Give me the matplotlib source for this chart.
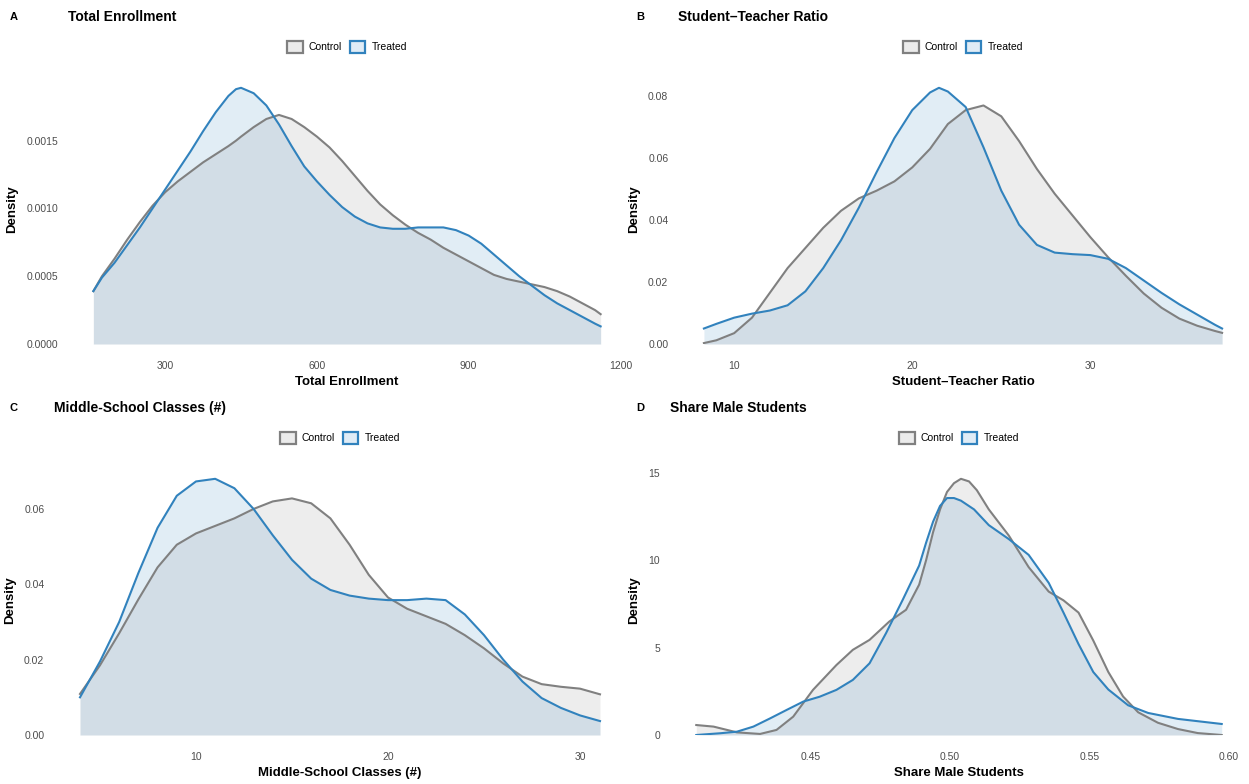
import matplotlib
matplotlib.use("Agg")
import matplotlib.pyplot as plt
from matplotlib.patches import Patch

plt.rcParams['font.family'] = ['Liberation Sans', 'DejaVu Sans']

# ---------------- data ----------------
# Panel A: Total Enrollment
a_x = [158, 175, 200, 225, 250, 275, 300, 325, 350, 375, 400, 425, 440, 450, 475, 500, 525, 550, 575,
       600, 625, 650, 675, 700, 725, 750, 775, 800, 825, 850, 875, 900, 925, 950, 975, 1000, 1025, 1050,
       1075, 1100, 1125, 1150, 1161]
a_ctrl_y = [0.00039, 0.00050, 0.00063, 0.00077, 0.00090, 0.00102, 0.00112, 0.00120, 0.00127, 0.00134,
            0.00140, 0.00146, 0.00150, 0.00153, 0.00160, 0.00166, 0.00169, 0.00166, 0.00160, 0.00153,
            0.00145, 0.00135, 0.00124, 0.00113, 0.00103, 0.00095, 0.00088, 0.00082, 0.00077, 0.00071,
            0.00066, 0.00061, 0.00056, 0.00051, 0.00048, 0.00046, 0.00044, 0.00042, 0.00039, 0.00035,
            0.00030, 0.00025, 0.00022]
a_trt_y = [0.00039, 0.00049, 0.00060, 0.00073, 0.00086, 0.00100, 0.00114, 0.00128, 0.00142, 0.00157,
           0.00171, 0.00183, 0.00188, 0.00189, 0.00185, 0.00176, 0.00162, 0.00146, 0.00131, 0.00120,
           0.00110, 0.00101, 0.00094, 0.00089, 0.00086, 0.00085, 0.00085, 0.00086, 0.00086, 0.00086,
           0.00084, 0.00080, 0.00074, 0.00066, 0.00058, 0.00050, 0.00043, 0.00036, 0.00030, 0.00025,
           0.00020, 0.00015, 0.00013]
a_xticks = [300, 600, 900, 1200]
a_yticks = [0.0, 0.0005, 0.0010, 0.0015]

# Panel B: Student-Teacher Ratio
b_x = [8.3, 9, 10, 11, 12, 13, 14, 15, 16, 17, 18, 19, 20, 21, 21.5, 22, 23, 24, 25, 26, 27, 28, 29, 30,
       31, 32, 33, 34, 35, 36, 37, 37.4]
b_ctrl_y = [0.0003, 0.0012, 0.0035, 0.0085, 0.0165, 0.0245, 0.0310, 0.0375, 0.0430, 0.0470, 0.0495,
            0.0525, 0.0570, 0.0630, 0.0670, 0.0710, 0.0755, 0.0770, 0.0735, 0.0655, 0.0565, 0.0485,
            0.0415, 0.0345, 0.0280, 0.0220, 0.0163, 0.0117, 0.0082, 0.0059, 0.0042, 0.0036]
b_trt_y = [0.0050, 0.0065, 0.0085, 0.0098, 0.0108, 0.0125, 0.0170, 0.0245, 0.0335, 0.0440, 0.0555,
           0.0665, 0.0755, 0.0812, 0.0827, 0.0815, 0.0765, 0.0635, 0.0495, 0.0385, 0.0320, 0.0295,
           0.0290, 0.0287, 0.0275, 0.0245, 0.0205, 0.0165, 0.0128, 0.0095, 0.0062, 0.0050]
b_xticks = [10, 20, 30]
b_yticks = [0.00, 0.02, 0.04, 0.06, 0.08]

# Panel C: Middle-School Classes (#)
c_x = [3.96, 5, 6, 7, 8, 9, 10, 11, 12, 13, 14, 15, 16, 17, 18, 19, 20, 21, 22, 23, 24, 25, 26, 27, 28,
       29, 30, 31.04]
c_ctrl_y = [0.0109, 0.0185, 0.0270, 0.0360, 0.0445, 0.0505, 0.0535, 0.0555, 0.0575, 0.0600, 0.0620,
            0.0628, 0.0615, 0.0575, 0.0505, 0.0425, 0.0365, 0.0335, 0.0315, 0.0295, 0.0265, 0.0230,
            0.0190, 0.0155, 0.0135, 0.0128, 0.0123, 0.0108]
c_trt_y = [0.0100, 0.0195, 0.0300, 0.0430, 0.0550, 0.0635, 0.0673, 0.0680, 0.0655, 0.0600, 0.0530,
           0.0465, 0.0415, 0.0385, 0.0370, 0.0362, 0.0358, 0.0358, 0.0362, 0.0358, 0.0320, 0.0265,
           0.0200, 0.0142, 0.0098, 0.0072, 0.0052, 0.0037]
c_xticks = [10, 20, 30]
c_yticks = [0.00, 0.02, 0.04, 0.06]

# Panel D: Share Male Students
d_ctrl_x = [0.4089, 0.4151, 0.4235, 0.4318, 0.4377, 0.4437, 0.4508, 0.4592, 0.4651, 0.4711, 0.4782,
            0.4842, 0.4889, 0.4914, 0.4939, 0.4964, 0.4989, 0.5014, 0.5039, 0.5068, 0.5096, 0.5139,
            0.5211, 0.5282, 0.5354, 0.5407, 0.5461, 0.5514, 0.5568, 0.5621, 0.5675, 0.5746, 0.5818,
            0.5889, 0.5975]
d_ctrl_y = [0.57, 0.48, 0.15, 0.06, 0.29, 1.05, 2.58, 4.0, 4.87, 5.44, 6.49, 7.16, 8.6, 10.0, 11.6,
            12.9, 13.9, 14.4, 14.65, 14.5, 14.0, 12.9, 11.4, 9.6, 8.2, 7.7, 7.0, 5.4, 3.6, 2.2, 1.3, 0.7,
            0.34, 0.11, 0.0]
d_trt_x = [0.4089, 0.4175, 0.4235, 0.4294, 0.4354, 0.4413, 0.4473, 0.4532, 0.4592, 0.4651, 0.4711,
           0.4770, 0.4830, 0.4889, 0.4914, 0.4939, 0.4964, 0.4989, 0.5014, 0.5039, 0.5086, 0.5139,
           0.5211, 0.5282, 0.5354, 0.5407, 0.5461, 0.5514, 0.5568, 0.5639, 0.5711, 0.5818, 0.5975]
d_trt_y = [0.0, 0.1, 0.19, 0.48, 0.95, 1.43, 1.91, 2.19, 2.58, 3.15, 4.10, 5.82, 7.73, 9.69, 11.0, 12.2,
           13.1, 13.55, 13.55, 13.4, 12.9, 12.0, 11.2, 10.3, 8.7, 7.0, 5.2, 3.6, 2.6, 1.7, 1.26, 0.92,
           0.63]
d_xticks = [0.45, 0.50, 0.55, 0.60]
d_yticks = [0, 5, 10, 15]

letters = ["A", "B", "C", "D"]
titles = ["Total Enrollment", "Student\u2013Teacher Ratio", "Middle-School Classes (#)", "Share Male Students"]
groups = ["Control", "Treated"]

# ---------------- styling ----------------
W, H = 1249, 784
fig = plt.figure(figsize=(W / 100, H / 100), dpi=100)

CTRL_LINE = "#808080"
TRT_LINE = "#3182bd"
ALPHA = 0.14
TICK_COL = "#4d4d4d"


def add_ax(l, r, t, b):
    return fig.add_axes([l / W, 1 - b / H, (r - l) / W, (b - t) / H])


panels = [
    dict(box=(68, 626, 75, 344), cx=a_x, cy=a_ctrl_y, tx=a_x, ty=a_trt_y,
         xt=a_xticks, yt=a_yticks, xf="{:.0f}", yf="{:.4f}", lx=10),
    dict(box=(678, 1248, 75, 344), cx=b_x, cy=b_ctrl_y, tx=b_x, ty=b_trt_y,
         xt=b_xticks, yt=b_yticks, xf="{:.0f}", yf="{:.2f}", lx=636),
    dict(box=(54, 626, 466, 735), cx=c_x, cy=c_ctrl_y, tx=c_x, ty=c_trt_y,
         xt=c_xticks, yt=c_yticks, xf="{:.0f}", yf="{:.2f}", lx=10),
    dict(box=(670, 1248, 466, 735), cx=d_ctrl_x, cy=d_ctrl_y, tx=d_trt_x, ty=d_trt_y,
         xt=d_xticks, yt=d_yticks, xf="{:.2f}", yf="{:.0f}", lx=636),
]

for i, p in enumerate(panels):
    l, r, t, b = p["box"]
    ax = add_ax(l, r, t, b)
    ax.fill_between(p["cx"], p["cy"], 0, color=CTRL_LINE, alpha=ALPHA, lw=0)
    ax.fill_between(p["tx"], p["ty"], 0, color=TRT_LINE, alpha=ALPHA, lw=0)
    ax.plot(p["cx"], p["cy"], color=CTRL_LINE, lw=1.5, solid_joinstyle="round")
    ax.plot(p["tx"], p["ty"], color=TRT_LINE, lw=1.5, solid_joinstyle="round")

    xmin = min(min(p["cx"]), min(p["tx"]))
    xmax = max(max(p["cx"]), max(p["tx"]))
    rng = xmax - xmin
    ax.set_xlim(xmin - 0.05 * rng, xmax + 0.05 * rng)
    ymax = max(max(p["cy"]), max(p["ty"]))
    ax.set_ylim(0, ymax * 1.05)

    ax.set_xticks(p["xt"])
    ax.set_xticklabels([p["xf"].format(v) for v in p["xt"]])
    ax.set_yticks(p["yt"])
    ax.set_yticklabels([p["yf"].format(v) for v in p["yt"]])
    ax.tick_params(length=0, labelsize=7.5, labelcolor=TICK_COL, pad=12)
    ax.tick_params(axis="y", pad=7)
    for s in ax.spines.values():
        s.set_visible(False)
    ax.set_xlabel(titles[i], fontsize=9.5, fontweight="bold", labelpad=4)
    ax.set_ylabel("Density", fontsize=9.5, fontweight="bold", labelpad=6)

    handles = [Patch(facecolor="#ebebeb", edgecolor=CTRL_LINE, lw=1.6),
               Patch(facecolor="#e0ecf6", edgecolor=TRT_LINE, lw=1.6)]
    ax.legend(handles, groups, loc="center", bbox_to_anchor=(0.5, 1 + 28 / (b - t)),
              ncol=2, frameon=False, fontsize=7.5, handlelength=1.5, handleheight=1.5,
              columnspacing=0.7, handletextpad=0.6, borderaxespad=0)

    fig.text(p["lx"] / W, 1 - (t - 58) / H, letters[i], fontsize=8, fontweight="bold",
             ha="left", va="center")
    fig.text(l / W, 1 - (t - 58) / H, titles[i], fontsize=10, fontweight="bold",
             ha="left", va="center")

fig.savefig("out.png", dpi=100)
